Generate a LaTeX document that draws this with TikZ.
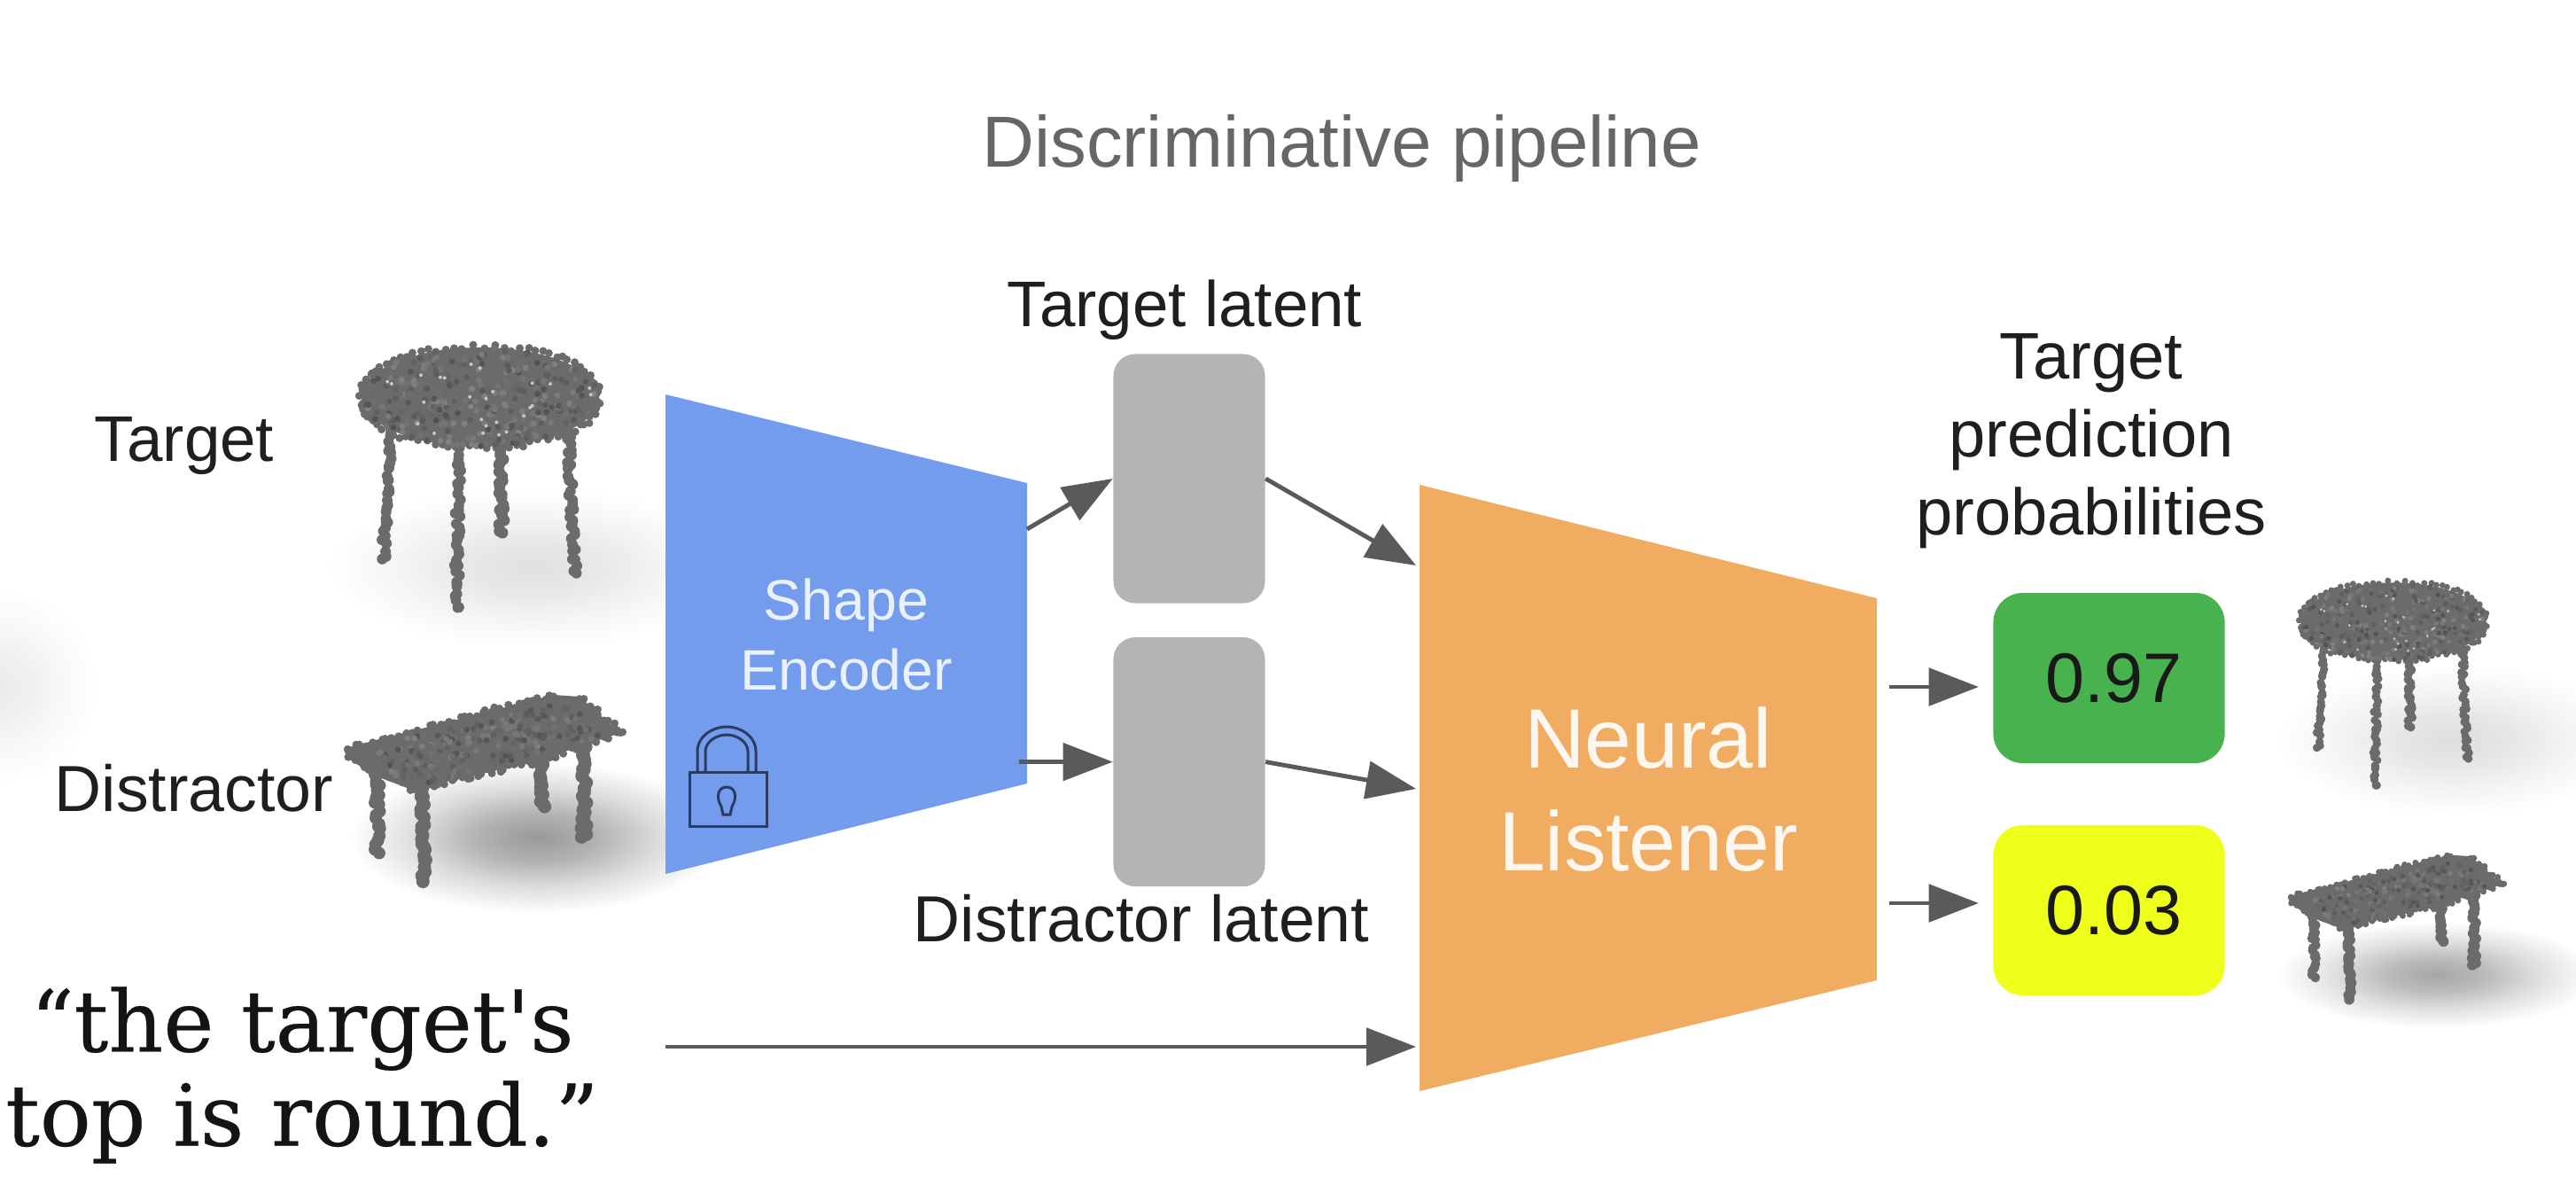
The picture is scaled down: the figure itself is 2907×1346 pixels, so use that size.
\documentclass[tikz,border=0pt]{standalone}
\usepackage{fontspec}
\setmainfont{Liberation Sans}
\newfontfamily\quotefont[FakeBold=0.3]{DejaVu Serif}
\usetikzlibrary{positioning,calc,arrows.meta,fadings}
\definecolor{encblue}{HTML}{739CEC}
\definecolor{lisorange}{HTML}{F0AD62}
\definecolor{latgray}{HTML}{B4B4B4}
\definecolor{probgreen}{HTML}{48B34E}
\definecolor{probyellow}{HTML}{EEFF1A}
\definecolor{connect}{HTML}{5A5A5A}
\definecolor{lockline}{HTML}{2B3B62}
\pgfdeclareradialshading{softramp}{\pgfpointorigin}{color(0bp)=(pgftransparent!0); color(8bp)=(pgftransparent!25); color(16bp)=(pgftransparent!65); color(25bp)=(pgftransparent!100); color(50bp)=(pgftransparent!100)}
\pgfdeclarefading{softfade}{\pgfuseshading{softramp}}
% row of jittered dots, used for legs and rims
\newcommand{\dotline}[4]{%
  \foreach \k in {0,...,#3}{
    \pgfmathsetmacro\runpos{\k/#3}
    \fill[black!58] ($(#1)!\runpos!(#2)+(rand*3,rand*3)$) circle[radius=#4];
  }}
\tikzset{
  roundtable/.pic={
    \pgfmathsetseed{11}
    \dotline{-102,40}{-109,182}{30}{6}
    \dotline{-24,50}{-27,240}{40}{6}
    \dotline{24,50}{24,153}{22}{6.5}
    \dotline{99,40}{107,200}{34}{6}
    \fill[black!58] (0,0) ellipse[x radius=134, y radius=56];
    \foreach \k in {3,7,...,359}
      \fill[black!58] ({134*cos(\k)/abs(cos(\k))^.1+rand*3},{56*sin(\k)/abs(sin(\k))^.1+rand*3}) circle[radius=4.5];
    \foreach \k in {1,...,320}{
      \pgfmathsetmacro\ang{rnd*360}
      \pgfmathsetmacro\rad{sqrt(rnd)}
      \pgfmathsetmacro\tone{48+rnd*20}
      \fill[black!\tone] ({134*\rad*cos(\ang)},{56*\rad*sin(\ang)}) circle[radius=3.4];
    }
    \foreach \k in {1,...,26}{
      \pgfmathsetmacro\ang{rnd*360}
      \pgfmathsetmacro\rad{sqrt(rnd)}
      \fill[black!22] ({126*\rad*cos(\ang)},{50*\rad*sin(\ang)}) circle[radius=2];
    }
  },
  recttable/.pic={
    \pgfmathsetseed{23}
    \dotline{-117,35}{-117,123}{20}{7}
    \dotline{-66,40}{-64,154}{26}{7.5}
    \dotline{69,10}{69,71}{14}{7.5}
    \dotline{116,5}{116,105}{24}{7.5}
    \fill[black!58] (-153,4) -- (82,-56) -- (111,-54) -- (157,-13) -- (58,20) -- (-78,51) -- (-126,33) -- (-153,12) -- cycle;
    \dotline{-153,6}{82,-56}{40}{4.5}
    \dotline{111,-54}{157,-13}{10}{4.5}
    \dotline{157,-13}{58,20}{16}{4.5}
    \dotline{58,20}{-78,51}{22}{4.5}
    \dotline{-78,51}{-153,12}{14}{4.5}
    \foreach \k in {1,...,260}{
      \pgfmathsetmacro\uu{rnd}
      \pgfmathsetmacro\vv{rnd}
      \pgfmathsetmacro\tone{50+rnd*18}
      \pgfmathsetmacro\px{(1-\uu)*(1-\vv)*(-148)+\uu*(1-\vv)*95+(1-\uu)*\vv*(-75)+\uu*\vv*150}
      \pgfmathsetmacro\py{(1-\uu)*(1-\vv)*8+\uu*(1-\vv)*(-50)+(1-\uu)*\vv*47+\uu*\vv*(-13)}
      \fill[black!\tone] (\px,\py) circle[radius=3.4];
    }
  }
}
\begin{document}
\begin{tikzpicture}[x=0.01cm, y=-0.01cm, >={Triangle[length=16pt,width=12pt]},
  softshadow/.style={black, path fading=softfade},
  conn/.style={->, draw=connect, fill=connect, color=connect, line width=1.4pt},
  plain/.style={inner sep=0pt, text=black!88},
  midtext/.style={plain, font=\fontsize{20.7}{24.6}\selectfont},
  wideltext/.style={plain, font=\fontsize{20.9}{24.6}\selectfont},
  latent/.style={fill=latgray, rounded corners=7pt, minimum width=1.71cm, minimum height=2.81cm, inner sep=0pt},
  prob/.style={rounded corners=9.5pt, minimum width=2.61cm, minimum height=1.92cm, inner sep=0pt, text depth=0pt, text=black!90, font=\fontsize{22.5}{27}\selectfont}]
\useasboundingbox (0,0) rectangle (2907,1346);
% soft shadows on the floor
\fill[softshadow, opacity=.08] (0,775) ellipse[x radius=110, y radius=110];
\fill[softshadow, opacity=.12] (600,640) ellipse[x radius=230, y radius=90];
\fill[softshadow, opacity=.40] (606,945) ellipse[x radius=210, y radius=85];
\fill[softshadow, opacity=.13] (2770,835) ellipse[x radius=200, y radius=85];
\fill[softshadow, opacity=.35] (2750,1100) ellipse[x radius=180, y radius=60];
% tables
\pic at (542,448) {roundtable};
\pic at (543,840) {recttable};
\pic[scale=.78] at (2701,701) {roundtable};
\pic[scale=.775] at (2702,1008) {recttable};
% encoder and listener
\fill[encblue] (751,445) -- (1159,545) -- (1159,884) -- (751,986) -- cycle;
\fill[lisorange] (1602,547) -- (2118,675) -- (2118,1106) -- (1602,1231) -- cycle;
\coordinate (enctop) at (1159,597);
\coordinate (encbot) at (1150,858);
\coordinate (listop) at (1598,638);
\coordinate (lisbot) at (1598,890);
\coordinate (lisin) at (1598,1181);
\coordinate (quoteout) at (751,1181);
\coordinate (lisgreen) at (2132,775);
\coordinate (lisyellow) at (2132,1019);
\node[inner sep=0pt, align=center, text=white!85!encblue, font=\fontsize{18.3}{22.5}\selectfont] (encoder) at (955,716) {Shape\\Encoder};
\node[inner sep=0pt, align=center, text=white!90!lisorange, font=\fontsize{27}{33}\selectfont] (listener) at (1860,891) {Neural\\Listener};
% lock
\draw[lockline, line width=.85pt] (778,871) rectangle (865,932);
\draw[lockline, line width=.85pt] (787,871) -- (787,848) .. controls (787,830) and (805,820) .. (820,820) .. controls (835,820) and (853,830) .. (853,848) -- (853,871);
\draw[lockline, line width=.85pt] (796,871) -- (796,848) .. controls (796,837) and (808,829) .. (820,829) .. controls (832,829) and (844,837) .. (844,848) -- (844,871);
\draw[lockline, line width=.85pt] (814,910) .. controls (807,898) and (811,888) .. (820,888) .. controls (829,888) and (833,898) .. (826,910) -- (824,919) -- (816,919) -- cycle;
% latents
\node[latent] (tgtlat) at (1342,540) {};
\node[latent, below=0.37cm of tgtlat] (dislat) {};
\node[midtext, anchor=base] (tgtlabel) at (1337,369) {Target latent};
\node[wideltext, anchor=base] (dislabel) at (1288,1062) {Distractor latent};
% inputs
\node[midtext, anchor=base] (tgtname) at (208,520) {Target};
\node[wideltext, anchor=base] (disname) at (219,915) {Distractor};
\node[inner sep=0pt, align=center, text=black!92, font=\quotefont\fontsize{27.4}{30.2}\selectfont] (quote) at (341,1213) {“the target's\\top is round.”};
\node[inner sep=0pt, text=black!60, font=\fontsize{23.2}{28}\selectfont, anchor=base] (title) at (1514,189) {Discriminative pipeline};
% outputs
\node[prob, fill=probgreen] (green) at (2380,765) {\hspace{3pt}0.97};
\node[prob, fill=probyellow] (yellow) at (2380,1027) {\hspace{3pt}0.03};
\node[midtext, align=center, font=\fontsize{21.1}{25}\selectfont] (problabel) at (2360,498) {Target\\prediction\\probabilities};
% connectors
\draw[conn] (enctop) -- (tgtlat.west);
\draw[conn] (encbot |- dislat.west) -- (dislat.west);
\draw[conn] (tgtlat.east) -- (listop);
\draw[conn] (dislat.east) -- (lisbot);
\draw[conn] (quoteout) -- (lisin);
\draw[conn, shorten >=4.5pt] (lisgreen) -- (lisgreen -| green.west);
\draw[conn, shorten >=4.5pt] (lisyellow) -- (lisyellow -| yellow.west);
\end{tikzpicture}
\end{document}
